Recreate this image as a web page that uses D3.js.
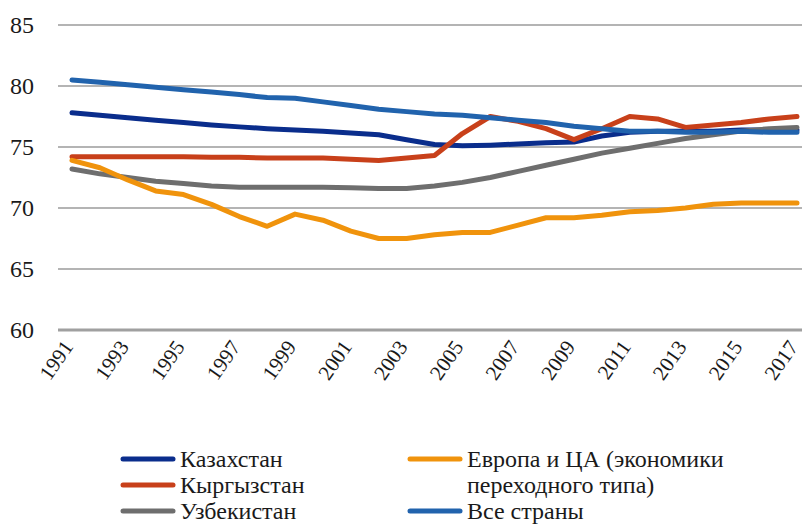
<!DOCTYPE html>
<meta charset="utf-8">
<style>
body { margin: 0; background: #fff; }
svg text { font-family: 'Liberation Serif', Tinos, serif; }
</style>
<svg width="802" height="526" font-family="Liberation Serif, serif"></svg>
<script src="https://cdn.jsdelivr.net/npm/d3@7"></script>
<script>

var years = d3.range(1991, 2018);
var yTicks = [60, 65, 70, 75, 80, 85];
var xTickYears = d3.range(1991, 2018, 2);

var kazakhstan = [77.8, 77.6, 77.4, 77.2, 77.0, 76.8, 76.65, 76.5, 76.4, 76.3, 76.15, 76.0, 75.6, 75.2,
  75.1, 75.15, 75.25, 75.35, 75.4, 75.9, 76.2, 76.3, 76.3, 76.3, 76.4, 76.4, 76.4];
var kyrgyzstan = [74.2, 74.2, 74.2, 74.2, 74.2, 74.15, 74.15, 74.1, 74.1, 74.1, 74.0, 73.9, 74.1, 74.3,
  76.1, 77.5, 77.1, 76.5, 75.6, 76.5, 77.5, 77.3, 76.6, 76.8, 77.0, 77.3, 77.5];
var uzbekistan = [73.2, 72.8, 72.5, 72.2, 72.0, 71.8, 71.7, 71.7, 71.7, 71.7, 71.65, 71.6, 71.6, 71.8,
  72.1, 72.5, 73.0, 73.5, 74.0, 74.5, 74.9, 75.3, 75.7, 76.0, 76.3, 76.5, 76.6];
var europe = [73.9, 73.3, 72.3, 71.4, 71.1, 70.3, 69.3, 68.5, 69.5, 69.0, 68.1, 67.5, 67.5, 67.8,
  68.0, 68.0, 68.6, 69.2, 69.2, 69.4, 69.7, 69.8, 70.0, 70.3, 70.4, 70.4, 70.4];
var allCountries = [80.5, 80.3, 80.1, 79.9, 79.7, 79.5, 79.3, 79.05, 79.0, 78.7, 78.4, 78.1, 77.9, 77.7,
  77.6, 77.4, 77.2, 77.0, 76.7, 76.5, 76.3, 76.3, 76.2, 76.2, 76.3, 76.2, 76.2];

var names = ["Казахстан", "Кыргызстан", "Узбекистан", "Европа и ЦА (экономики|переходного типа)", "Все страны"];
var colors = ["#0a2d8c", "#c8401a", "#6e6e6e", "#f0930c", "#2163ad"];
var values = [kazakhstan, kyrgyzstan, uzbekistan, europe, allCountries];

var ink = "#1a1a1a";

var svg = d3.select("svg");

var x = d3.scaleLinear().domain([1991, 2017]).range([72, 797]);
var y = d3.scaleLinear().domain([60, 85]).range([330, 25]);

// horizontal gridlines, the 60 line is the heavier baseline
svg.append("g")
  .selectAll("line")
    .data(yTicks)
  .enter().append("line")
    .attr("x1", 58).attr("x2", 802)
    .attr("y1", function(d) { return y(d); })
    .attr("y2", function(d) { return y(d); })
    .attr("stroke", function(d) { return d === 60 ? "#a0a0a0" : "#b4b4b4"; })
    .attr("stroke-width", function(d) { return d === 60 ? 3 : 2; });

svg.append("g")
  .selectAll("text")
    .data(yTicks)
  .enter().append("text")
    .attr("x", 10)
    .attr("y", function(d) { return y(d); })
    .attr("dy", "0.35em")
    .attr("fill", ink)
    .attr("font-size", 24)
    .text(function(d) { return d; });

svg.append("g")
  .selectAll("text")
    .data(xTickYears)
  .enter().append("text")
    .attr("text-anchor", "end")
    .attr("transform", function(d) { return "translate(" + (x(d) + 2) + ",347) rotate(-55)"; })
    .attr("fill", ink)
    .attr("font-size", 21)
    .text(function(d) { return d; });

var line = d3.line()
    .x(function(d, i) { return x(years[i]); })
    .y(function(d) { return y(d); });

svg.append("g")
  .selectAll("path")
    .data(values)
  .enter().append("path")
    .attr("fill", "none")
    .attr("stroke", function(d, i) { return colors[i]; })
    .attr("stroke-width", 5)
    .attr("stroke-linejoin", "round")
    .attr("stroke-linecap", "round")
    .attr("d", line);

var legendPos = [[123, 459], [123, 485], [123, 511], [410, 459], [410, 511]];
var legend = svg.append("g");
names.forEach(function(name, i) {
  var p = legendPos[i];
  legend.append("line")
      .attr("x1", p[0]).attr("x2", p[0] + 50)
      .attr("y1", p[1]).attr("y2", p[1])
      .attr("stroke", colors[i])
      .attr("stroke-width", 5)
      .attr("stroke-linecap", "round");
  var t = legend.append("text")
      .attr("x", p[0] + 57)
      .attr("y", p[1])
      .attr("fill", ink)
      .attr("font-size", 24);
  name.split("|").forEach(function(part, j) {
    t.append("tspan")
        .attr("x", p[0] + 57)
        .attr("dy", j === 0 ? "0.35em" : "1.08em")
        .text(part);
  });
});

</script>
